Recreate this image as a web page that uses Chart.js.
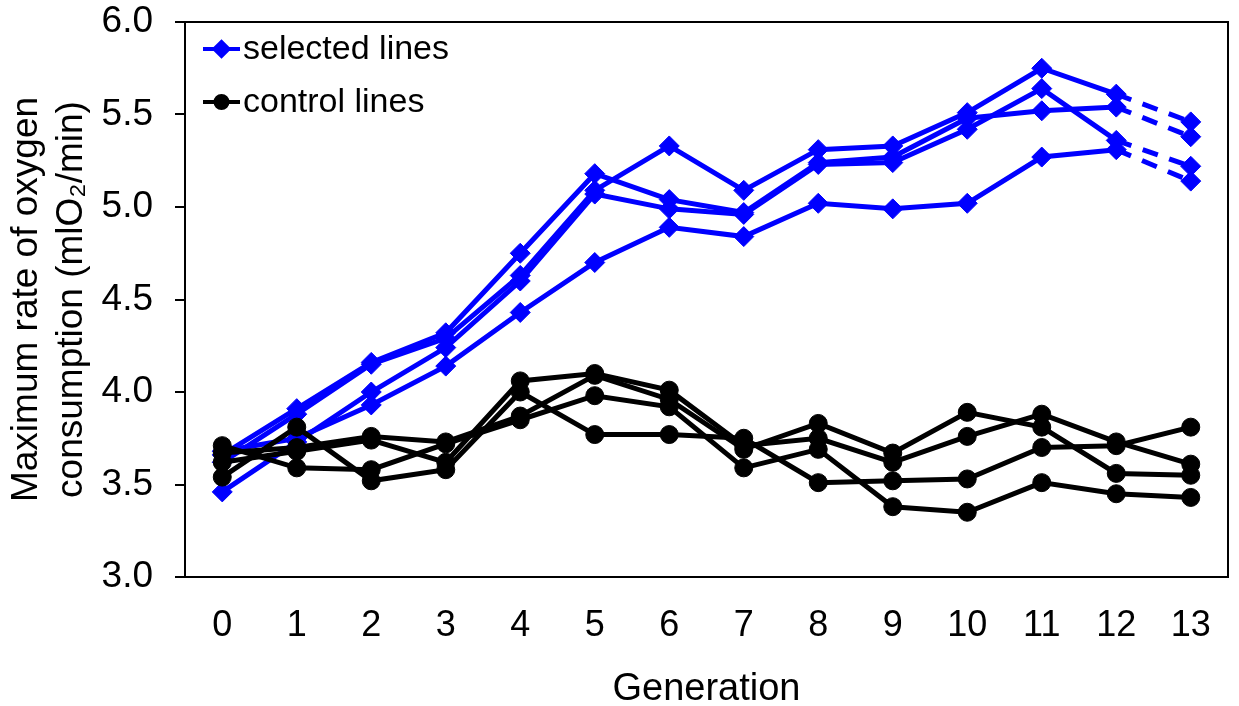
<!DOCTYPE html>
<html lang="en">
<head>
    <meta charset="UTF-8">
    <title>Maximum rate of oxygen consumption by generation</title>
    <script src="https://cdn.jsdelivr.net/npm/chart.js"></script>
    <style>
        html, body {
            margin: 0;
            padding: 0;
            background: #fff;
        }
        .chart-box {
            width: 1239px;
            height: 706px;
        }
    </style>
</head>
<body>
    <div class="chart-box">
        <canvas id="vo2Chart" width="1239" height="706"></canvas>
    </div>

    <script>
        // Generations on the x axis
        const generations = ['0', '1', '2', '3', '4', '5', '6', '7', '8', '9', '10', '11', '12', '13'];

        // Selected lines (blue diamonds)
        const selectedA = [3.66, 3.91, 4.16, 4.32, 4.75, 5.18, 5.04, 4.97, 5.24, 5.27, 5.48, 5.52, 5.54, 5.38];
        const selectedB = [3.62, 3.88, 4.15, 4.29, 4.63, 5.09, 5.33, 5.09, 5.31, 5.33, 5.51, 5.75, 5.61, 5.46];
        const selectedC = [3.46, 3.73, 4.00, 4.24, 4.60, 5.07, 4.99, 4.96, 5.23, 5.24, 5.42, 5.64, 5.36, 5.22];
        const selectedD = [3.68, 3.75, 3.93, 4.14, 4.43, 4.70, 4.89, 4.84, 5.02, 4.99, 5.02, 5.27, 5.31, 5.14];

        // Control lines (black circles)
        const controlA = [3.62, 3.68, 3.74, 3.62, 4.06, 4.10, 4.01, 3.71, 3.75, 3.62, 3.76, 3.88, 3.73, 3.61];
        const controlB = [3.54, 3.81, 3.52, 3.58, 4.00, 3.77, 3.77, 3.75, 3.51, 3.52, 3.53, 3.70, 3.71, 3.81];
        const controlC = [3.67, 3.70, 3.76, 3.73, 3.87, 4.09, 3.96, 3.69, 3.83, 3.67, 3.89, 3.81, 3.56, 3.55];
        const controlD = [3.71, 3.59, 3.58, 3.72, 3.85, 3.98, 3.92, 3.59, 3.69, 3.38, 3.35, 3.51, 3.45, 3.43];

        // y axis range and tick step
        const yMin = 3.0;
        const yMax = 6.0;
        const yStep = 0.5;

        const legendLabels = ['selected lines', 'control lines'];

        const BLUE = '#0000ff';
        const BLACK = '#000000';
        const FONT = "'Liberation Sans', Arial, Helvetica, sans-serif";

        function controlSet(values) {
            return {
                data: values,
                borderColor: BLACK,
                backgroundColor: BLACK,
                borderWidth: 5,
                pointStyle: 'circle',
                pointRadius: 9,
                pointBorderWidth: 1,
                pointBackgroundColor: BLACK,
                pointBorderColor: BLACK,
                tension: 0
            };
        }

        function selectedSet(values) {
            return {
                data: values,
                borderColor: BLUE,
                backgroundColor: BLUE,
                borderWidth: 5,
                pointStyle: 'rectRot',
                pointRadius: 10,
                pointBorderWidth: 1,
                pointBackgroundColor: BLUE,
                pointBorderColor: BLUE,
                tension: 0,
                // last step (gen 12 -> 13) is dashed
                segment: {
                    borderDash: ctx => ctx.p1DataIndex === generations.length - 1 ? [16, 12] : undefined
                }
            };
        }

        // plot frame and in-plot legend
        const frameAndLegend = {
            id: 'frameAndLegend',
            afterDraw(chart) {
                const ctx = chart.ctx;
                const a = chart.chartArea;
                ctx.save();
                ctx.strokeStyle = BLACK;
                ctx.lineWidth = 2;
                ctx.strokeRect(a.left, a.top, a.right - a.left, a.bottom - a.top);

                const rows = [
                    { text: legendLabels[0], color: BLUE, style: 'rectRot', y: a.top + 27 },
                    { text: legendLabels[1], color: BLACK, style: 'circle', y: a.top + 80 }
                ];
                rows.forEach(r => {
                    const x0 = a.left + 18;
                    const x1 = a.left + 55;
                    ctx.strokeStyle = r.color;
                    ctx.fillStyle = r.color;
                    ctx.lineWidth = 4;
                    ctx.beginPath();
                    ctx.moveTo(x0, r.y);
                    ctx.lineTo(x1, r.y);
                    ctx.stroke();
                    Chart.helpers.drawPoint(ctx, {
                        pointStyle: r.style,
                        radius: r.style === 'circle' ? 6 : 7,
                        rotation: 0,
                        borderWidth: 1
                    }, (x0 + x1) / 2, r.y);
                    ctx.fillStyle = BLACK;
                    ctx.font = '34px ' + FONT;
                    ctx.textAlign = 'left';
                    ctx.textBaseline = 'middle';
                    ctx.fillText(r.text, x1 + 3, r.y + 1);
                });
                ctx.restore();
            }
        };

        const ctx = document.getElementById('vo2Chart').getContext('2d');
        new Chart(ctx, {
            type: 'line',
            data: {
                labels: generations,
                // control lines first so they sit on top of the blue ones
                datasets: [
                    controlSet(controlA),
                    controlSet(controlB),
                    controlSet(controlC),
                    controlSet(controlD),
                    selectedSet(selectedA),
                    selectedSet(selectedB),
                    selectedSet(selectedC),
                    selectedSet(selectedD)
                ]
            },
            options: {
                responsive: false,
                animation: false,
                layout: {
                    padding: { top: 22, right: 3, left: 0, bottom: 0 }
                },
                plugins: {
                    legend: { display: false },
                    tooltip: { enabled: false }
                },
                scales: {
                    x: {
                        type: 'category',
                        offset: true,
                        // tick marks are hidden; their length only spaces the labels
                        grid: { display: false, drawTicks: true, tickLength: 18 },
                        border: { display: true, color: BLACK, width: 2 },
                        ticks: {
                            color: BLACK,
                            padding: 9,
                            maxRotation: 0,
                            font: { family: FONT, size: 36 }
                        },
                        title: {
                            display: true,
                            text: 'Generation',
                            color: BLACK,
                            padding: { top: 0, bottom: 0 },
                            font: { family: FONT, size: 38, lineHeight: 0.85 }
                        },
                        afterFit(scale) {
                            scale.height = 129;
                            scale.paddingLeft = 0;
                            scale.paddingRight = 0;
                        }
                    },
                    y: {
                        min: yMin,
                        max: yMax,
                        grid: {
                            display: true,
                            drawOnChartArea: false,
                            drawTicks: true,
                            tickLength: 10,
                            color: BLACK,
                            lineWidth: 2
                        },
                        border: { display: true, color: BLACK, width: 2 },
                        ticks: {
                            stepSize: yStep,
                            color: BLACK,
                            padding: 22,
                            font: { family: FONT, size: 37 },
                            callback: v => Number(v).toFixed(1)
                        },
                        title: {
                            display: true,
                            text: ['Maximum rate of oxygen', 'consumption (mlO\u2082/min)'],
                            color: BLACK,
                            padding: { top: 5, bottom: 0 },
                            font: { family: FONT, size: 37, lineHeight: 1.2 }
                        },
                        afterFit(scale) {
                            scale.width = 185;
                            scale.paddingTop = 0;
                            scale.paddingBottom = 0;
                        }
                    }
                }
            },
            plugins: [frameAndLegend]
        });
    </script>
</body>
</html>
